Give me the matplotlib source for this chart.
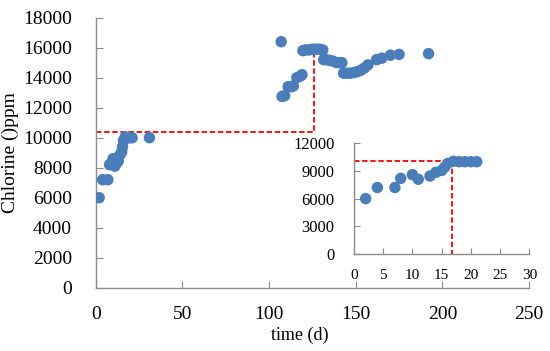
import matplotlib
matplotlib.use("Agg")
import matplotlib.pyplot as plt

# main series: time (d) vs chlorine (ppm)
days = [2, 4, 7, 8, 9, 10, 11, 12, 13, 14, 15, 15.5, 16, 17, 18, 19, 20, 21, 31,
        107, 107.5, 109, 111, 113, 114, 116, 118, 119,
        119.5, 121, 123, 125, 127, 129, 131,
        131.5, 133, 135, 137, 139, 141, 142,
        143, 145, 147, 149, 151, 153, 155, 157,
        162, 165, 170, 175, 192]
chlorine = [6000, 7200, 7200, 8200, 8300, 8600, 8100, 8300, 8450, 8850, 9050, 9400, 9800, 10050, 10000, 10000, 10000, 10000, 10000,
            16400, 12750, 12800, 13400, 13400, 13450, 14000, 14100, 14200,
            15800, 15850, 15850, 15900, 15900, 15900, 15850,
            15200, 15200, 15150, 15100, 15000, 15000, 15000,
            14300, 14300, 14300, 14350, 14400, 14500, 14650, 14850,
            15200, 15300, 15500, 15550, 15600]

# inset: first three weeks
inset_days = [2, 4, 7, 8, 10, 11, 13, 14, 15, 15.5, 16, 17, 18, 19, 20, 21]
inset_chlorine = [6000, 7200, 7200, 8200, 8600, 8100, 8450, 8850, 9050, 9400, 9800, 10050, 10000, 10000, 10000, 10000]

main_guide_x = 126.2
main_guide_y = 10360
inset_guide_x = 16.8
inset_guide_y = 10100

BLUE = "#4A7EBB"
GRAY = "#8C8C8C"

plt.rcParams["font.family"] = ["Liberation Serif", "DejaVu Serif"]

fig = plt.figure(figsize=(5.5, 3.51), dpi=100)
ax = fig.add_axes([0.174, 0.1803, 0.788, 0.7693])

ax.plot([0, main_guide_x, main_guide_x], [main_guide_y, main_guide_y, 15800],
        color="red", linestyle=(0, (3, 1.5)), linewidth=1.3, zorder=2)
ax.scatter(days, chlorine, s=68, color=BLUE, edgecolors="none", zorder=3)

ax.set_xlim(0, 250)
ax.set_ylim(0, 18000)
ax.set_xticks(range(0, 251, 50))
ax.set_yticks(range(0, 18001, 2000))
for side in ["top", "right"]:
    ax.spines[side].set_visible(False)
for side in ["left", "bottom"]:
    ax.spines[side].set_color(GRAY)
    ax.spines[side].set_linewidth(1.0)
ax.tick_params(axis="both", direction="in", length=5, color=GRAY, labelsize=14)
ax.tick_params(axis="y", pad=17)
ax.tick_params(axis="x", pad=13)
ax.set_xlabel("time (d)", fontsize=13, labelpad=3, x=0.47)
ax.set_ylabel("Chlorine ()ppm", fontsize=14, labelpad=3)

# inset
ins = fig.add_axes([0.6436, 0.2764, 0.3188, 0.3154])
ins.plot([0, inset_guide_x, inset_guide_x], [inset_guide_y, inset_guide_y, 0],
         color="red", linestyle=(0, (3, 1.5)), linewidth=1.3, zorder=2)
ins.scatter(inset_days, inset_chlorine, s=68, color=BLUE, edgecolors="none", zorder=3)
ins.set_xlim(0, 30)
ins.set_ylim(0, 12000)
ins.set_xticks(range(0, 31, 5))
ins.set_yticks(range(0, 12001, 3000))
for side in ["top", "right"]:
    ins.spines[side].set_visible(False)
for side in ["left", "bottom"]:
    ins.spines[side].set_color(GRAY)
    ins.spines[side].set_linewidth(1.0)
ins.tick_params(axis="both", direction="in", length=4, color=GRAY)
ins.tick_params(axis="y", labelsize=12, pad=14)
ins.tick_params(axis="x", labelsize=11, pad=11)
ins.patch.set_alpha(0)

fig.savefig("out.png", dpi=100)
